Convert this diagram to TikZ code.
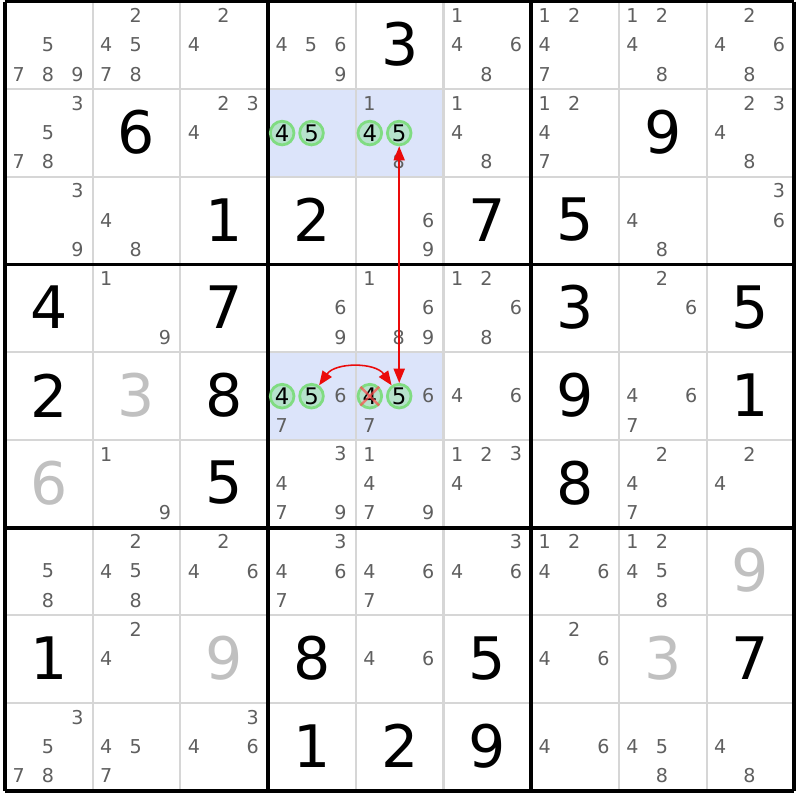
\documentclass[tikz,border=0pt]{standalone}
\usepackage{fontspec}
\setmainfont{DejaVu Sans}
\usepackage{tikz}
\usetikzlibrary{arrows.meta}
\definecolor{gridgray}{RGB}{214,214,214}
\definecolor{candgray}{RGB}{95,95,95}
\definecolor{solvedgray}{RGB}{192,192,192}
\definecolor{hilite}{RGB}{220,228,250}
\definecolor{pickfill}{RGB}{182,226,204}
\definecolor{pickline}{RGB}{128,220,130}
\definecolor{linkred}{RGB}{235,10,10}

\begin{document}
\begin{tikzpicture}[x=1cm,y=-1cm,
            thinline/.style={draw=gridgray,line width=0.65pt},
            boxline/.style={draw=black,line width=1.2pt},
            given/.style={inner sep=0pt,font=\fontsize{19}{19}\selectfont},
            solved/.style={given,text=solvedgray},
            cand/.style={inner sep=0pt,text=candgray,font=\fontsize{6.2}{6.2}\selectfont},
            pick/.style={circle,inner sep=0pt,minimum size=0.27cm,draw=pickline,line width=0.9pt,
                fill=pickfill,font=\fontsize{7.4}{7.4}\selectfont},
            link/.style={draw=linkred,line width=0.5pt,{Triangle[length=4.6pt,width=3.6pt]}-{Triangle[length=4.6pt,width=3.6pt]}},
            elim/.style={draw=red!70!white,line width=0.8pt,opacity=0.7}]
            \useasboundingbox (-0.057,-0.017) rectangle (9.065,9.105);
            \fill[hilite] (3,1) rectangle (5,2);
            \fill[hilite] (3,4) rectangle (5,5);
            \foreach \i in {1,2,4,5,7,8} {
                \draw[thinline] (\i,0) -- (\i,9);
                \draw[thinline] (0,\i) -- (9,\i);
            }
            \foreach \i in {0,3,6,9} {
                \draw[boxline] (\i,0) -- (\i,9);
                \draw[boxline] (0,\i) -- (9,\i);
            }
            % givens and solved cells
            \foreach \r/\c/\d in {1/5/3, 2/2/6, 2/8/9, 3/3/1, 3/4/2, 3/6/7, 3/7/5, 4/1/4, 4/3/7, 4/7/3,
                4/9/5, 5/1/2, 5/3/8, 5/7/9, 5/9/1, 6/3/5, 6/7/8, 8/1/1, 8/4/8, 8/6/5, 8/9/7, 9/4/1, 9/5/2, 9/6/9}
                \node[given] (g\r\c) at ({\c-0.5},{\r-0.51}) {\d};
            \foreach \r/\c/\d in {5/2/3, 6/1/6, 7/9/9, 8/3/9, 8/8/3}
                \node[solved] (g\r\c) at ({\c-0.5},{\r-0.51}) {\d};
            % pencil marks
            \foreach \r/\c/\cands in {
                1/1/{5,7,8,9}, 1/2/{2,4,5,7,8}, 1/3/{2,4}, 1/4/{4,5,6,9}, 1/6/{1,4,6,8}, 1/7/{1,2,4,7},
                1/8/{1,2,4,8}, 1/9/{2,4,6,8},
                2/1/{3,5,7,8}, 2/3/{2,3,4}, 2/5/{1,8}, 2/6/{1,4,8}, 2/7/{1,2,4,7}, 2/9/{2,3,4,8},
                3/1/{3,9}, 3/2/{4,8}, 3/5/{6,9}, 3/8/{4,8}, 3/9/{3,6},
                4/2/{1,9}, 4/4/{6,9}, 4/5/{1,6,8,9}, 4/6/{1,2,6,8}, 4/8/{2,6},
                5/4/{6,7}, 5/5/{6,7}, 5/6/{4,6}, 5/8/{4,6,7},
                6/2/{1,9}, 6/4/{3,4,7,9}, 6/5/{1,4,7,9}, 6/6/{1,2,3,4}, 6/8/{2,4,7}, 6/9/{2,4},
                7/1/{5,8}, 7/2/{2,4,5,8}, 7/3/{2,4,6}, 7/4/{3,4,6,7}, 7/5/{4,6,7}, 7/6/{3,4,6},
                7/7/{1,2,4,6}, 7/8/{1,2,4,5,8},
                8/2/{2,4}, 8/5/{4,6}, 8/7/{2,4,6},
                9/1/{3,5,7,8}, 9/2/{4,5,7}, 9/3/{3,4,6}, 9/7/{4,6}, 9/8/{4,5,8}, 9/9/{4,8}}
                \foreach \n in \cands {
                    \pgfmathtruncatemacro\cx{mod(\n-1,3)}
                    \pgfmathtruncatemacro\cy{div(\n-1,3)}
                    \node[cand] (r\r c\c n\n) at ({\c-1+0.155+0.335*\cx},{\r-1+0.16+0.335*\cy}) {\n};
                }
            % the 4/5 pair
            \foreach \r/\c in {2/4, 2/5, 5/4, 5/5} {
                \node[pick] (r\r c\c n4) at ({\c-1+0.16},{\r-0.5}) {4};
                \node[pick] (r\r c\c n5) at ({\c-1+0.495},{\r-0.5}) {5};
            }
            \draw[elim] (r5c5n4.north west) -- (r5c5n4.south east);
            \draw[elim] (r5c5n4.north east) -- (r5c5n4.south west);
            \draw[link] (r2c5n5) -- (r5c5n5);
            \draw[link] (r5c4n5) to[bend left=55] (r5c5n5);
        \end{tikzpicture}
\end{document}
